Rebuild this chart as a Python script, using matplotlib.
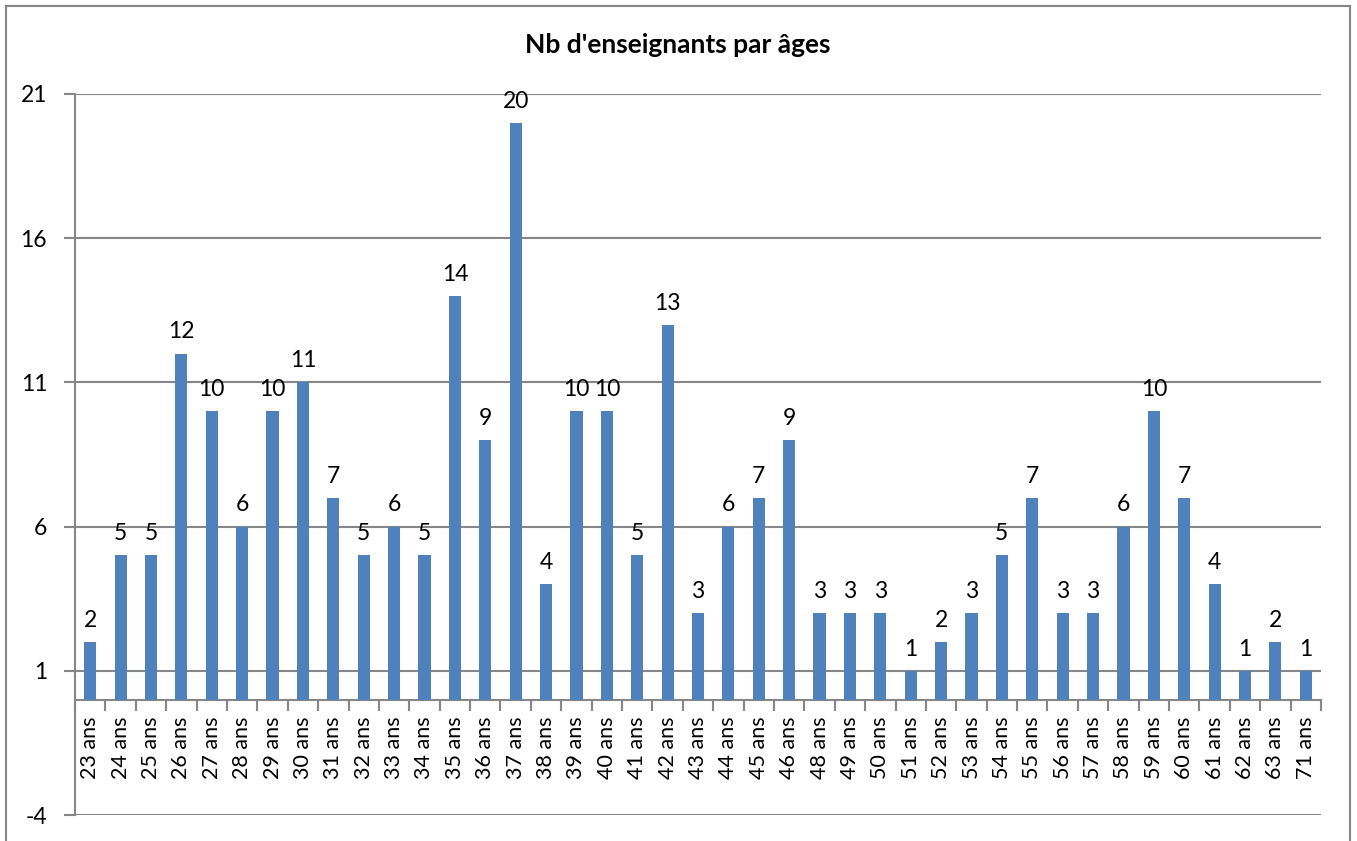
import matplotlib
matplotlib.use("Agg")
import matplotlib.pyplot as plt
from matplotlib.lines import Line2D
from matplotlib.ticker import FixedLocator

plt.rcParams['font.family'] = ['Lato', 'DejaVu Sans']
plt.rcParams['axes.unicode_minus'] = False

ages = ["23", "24", "25", "26", "27", "28", "29", "30", "31", "32", "33", "34",
        "35", "36", "37", "38", "39", "40", "41", "42", "43", "44", "45", "46",
        "48", "49", "50", "51", "52", "53", "54", "55", "56", "57", "58", "59",
        "60", "61", "62", "63", "71"]
counts = [2, 5, 5, 12, 10, 6, 10, 11, 7, 5, 6, 5,
          14, 9, 20, 4, 10, 10, 5, 13, 3, 6, 7, 9,
          3, 3, 3, 1, 2, 3, 5, 7, 3, 3, 6, 10,
          7, 4, 1, 2, 1]
labels = [a + " ans" for a in ages]
y_ticks = [-4, 1, 6, 11, 16, 21]

grey = "#868686"

fig = plt.figure(figsize=(13.57, 8.41), dpi=100)
ax = fig.add_axes([75 / 1357, 26 / 841, 1246 / 1357, 721 / 841])

x = list(range(len(counts)))
ax.bar(x, counts, width=0.4, color="#4F81BD", zorder=3)

for xi, v in zip(x, counts):
    ax.annotate(str(v), (xi, v), xytext=(0, 8), textcoords="offset points",
                ha="center", va="bottom", fontsize=16.5)

ax.set_xlim(-0.5, len(counts) - 0.5)
ax.set_ylim(-4, 21)
ax.set_yticks(y_ticks)
ax.tick_params(axis="y", labelsize=16.5, length=8, color=grey, width=1.5, pad=12)
ax.yaxis.grid(True, color=grey, linewidth=1.5, zorder=0)

# category axis crosses at 0
ax.spines['bottom'].set_position(('data', 0))
ax.spines['bottom'].set_color(grey)
ax.spines['bottom'].set_linewidth(1.5)
ax.spines['left'].set_color(grey)
ax.spines['left'].set_linewidth(1.5)
ax.spines['right'].set_visible(False)
ax.spines['top'].set_visible(False)

ax.set_xticks(x)
ax.set_xticklabels(labels, rotation=90, fontsize=15.5, va="top")
ax.tick_params(axis="x", which="major", length=0, pad=12)
ax.xaxis.set_minor_locator(FixedLocator([i - 0.5 for i in range(len(counts) + 1)]))
ax.tick_params(axis="x", which="minor", length=8, color=grey, width=1.5)

fig.text(678 / 1357, 1 - 45 / 841, "Nb d'enseignants par âges", ha="center",
         va="center", fontsize=19, fontweight="bold")

# outer chart frame
for xs, ys in [([6, 6], [0, 835]), ([6, 1350], [835, 835]), ([1350, 1350], [835, 0])]:
    fig.add_artist(Line2D([v / 1357 for v in xs], [v / 841 for v in ys],
                          color=grey, linewidth=1.5, transform=fig.transFigure))

fig.savefig("out.png", dpi=100)
